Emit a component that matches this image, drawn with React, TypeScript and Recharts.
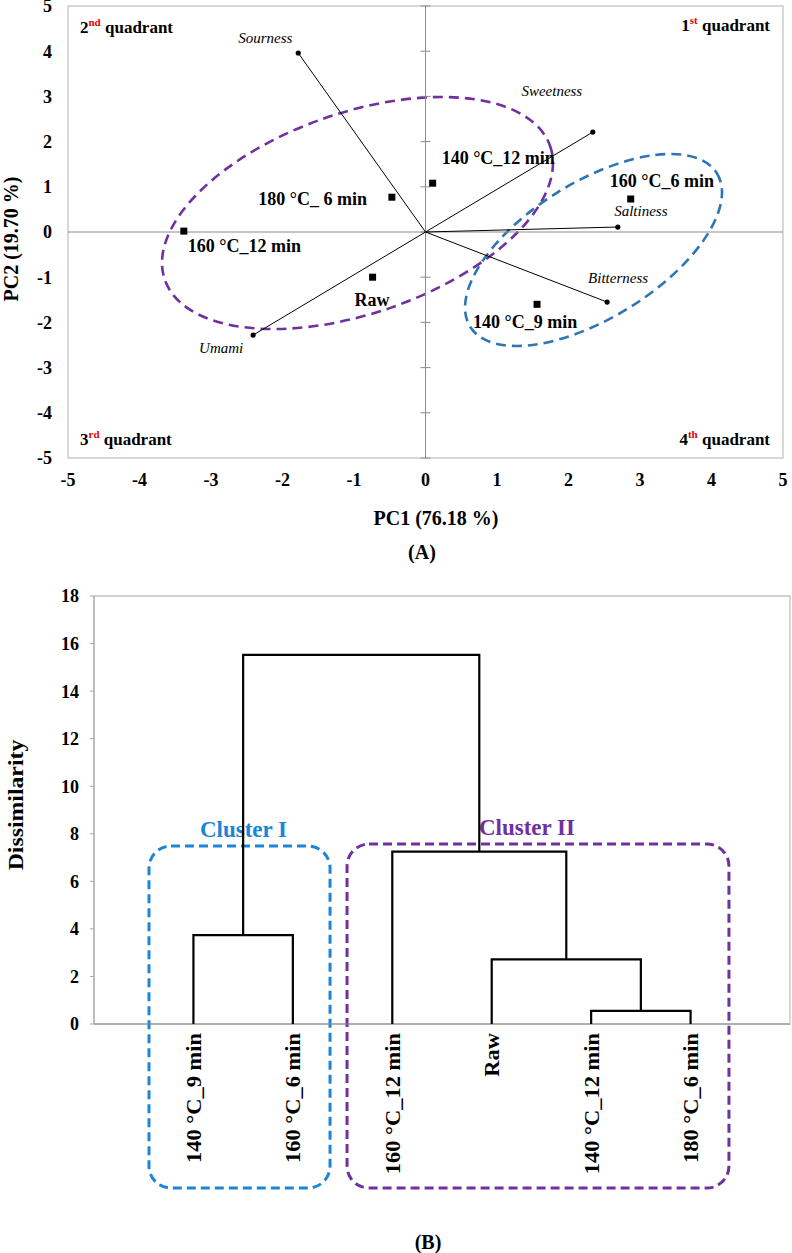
import React from 'react';
import { ScatterChart, Scatter, XAxis, YAxis, ReferenceLine, ReferenceArea } from 'recharts';

const FONT = '"Liberation Serif", "Times New Roman", serif';

// ---------- (A) PCA biplot ----------
const sampleNames = ['180 °C_ 6 min', '160 °C_12 min', '140 °C_12 min', '160 °C_6 min', 'Raw', '140 °C_9 min'];
const samplePC1 = [-0.47, -3.38, 0.10, 2.87, -0.74, 1.56];
const samplePC2 = [0.77, 0.02, 1.08, 0.73, -1.00, -1.60];

const attrNames = ['Sourness', 'Sweetness', 'Saltiness', 'Bitterness', 'Umami'];
const attrPC1 = [-1.78, 2.34, 2.69, 2.54, -2.41];
const attrPC2 = [3.96, 2.21, 0.11, -1.55, -2.28];

const pcTicks = [-5, -4, -3, -2, -1, 0, 1, 2, 3, 4, 5];

// group ellipses: centre, half extents (data units), correlation
const ellCX = [-0.951, 2.35];
const ellCY = [0.42, -0.398];
const ellHX = [2.734, 1.797];
const ellHY = [2.566, 2.124];
const ellK = [0.43, 0.6];
const ellColor = ['#7030a0', '#2e75b6'];

// label placement (px)
const sampleLabelDx = [-25, 4, 9, -21, -18, -64];
const sampleLabelDy = [2, 15, -25, -18, 22, 17];
const sampleLabelAnchor = ['end', 'start', 'start', 'start', 'start', 'start'];
const attrLabelDx = [-33, -41, 23, 11, -32];
const attrLabelDy = [-15, -41, -16, -24, 13];

// ---------- (B) dendrogram ----------
const leafNames = ['140 °C_9 min', '160 °C_6 min', '160 °C_12 min', 'Raw', '140 °C_12 min', '180 °C_6 min'];
const leafTicks = [1, 2, 3, 4, 5, 6];
const mergeA = [0, 4, 3, 2, 6];
const mergeB = [1, 5, 7, 8, 9];
const mergeHeight = [3.74, 0.55, 2.72, 7.25, 15.52];
const dissTicks = [0, 2, 4, 6, 8, 10, 12, 14, 16, 18];

const clusterNames = ['Cluster I', 'Cluster II'];
const clusterX1 = [0.553, 2.545];
const clusterX2 = [2.374, 6.386];
const clusterY1 = [-6.9, -6.9];
const clusterY2 = [7.485, 7.57];
const clusterColor = ['#1a86d6', '#7030a0'];
const clusterLabelDx = [4, -11];

const samplesData = sampleNames.map((n, i) => ({ x: samplePC1[i], y: samplePC2[i], i }));
const vTickData = pcTicks.map((v) => ({ x: 0, y: v }));

function buildDendro() {
  const nodes: { x: number; h: number }[] = leafNames.map((_, j) => ({ x: j + 1, h: 0 }));
  const segs: { x: number; y: number }[][] = [];
  mergeHeight.forEach((h, m) => {
    const a = nodes[mergeA[m]];
    const b = nodes[mergeB[m]];
    segs.push([
      { x: a.x, y: a.h },
      { x: a.x, y: h },
      { x: b.x, y: h },
      { x: b.x, y: b.h },
    ]);
    nodes.push({ x: (a.x + b.x) / 2, h });
  });
  return segs;
}
const dendroSegs = buildDendro();

const tickStyle = { fontFamily: FONT, fontWeight: 700, fontSize: 18, fill: '#000' };

const Empty = () => <g />;

const EllipseShape = (props: any) => {
  const { x, y, width, height, k, color } = props;
  const hw = width / 2;
  const hh = Math.abs(height) / 2;
  const cx = x + hw;
  const cy = Math.min(y, y + height) + hh;
  const sxx = hw * hw;
  const syy = hh * hh;
  const sxy = -k * hw * hh;
  const theta = 0.5 * Math.atan2(2 * sxy, sxx - syy);
  const mid = (sxx + syy) / 2;
  const r = Math.sqrt(((sxx - syy) / 2) ** 2 + sxy * sxy);
  const a = Math.sqrt(mid + r);
  const b = Math.sqrt(Math.max(mid - r, 0));
  return (
    <ellipse
      cx={cx}
      cy={cy}
      rx={a}
      ry={b}
      transform={`rotate(${(theta * 180) / Math.PI} ${cx} ${cy})`}
      fill="none"
      stroke={color}
      strokeWidth={2.6}
      strokeDasharray="10 6"
    />
  );
};

const Sup = ({ n, s }: { n: string; s: string }) => (
  <>
    <tspan>{n}</tspan>
    <tspan fill="#e00000" fontSize={11} dy={-7}>{s}</tspan>
    <tspan dy={7}> quadrant</tspan>
  </>
);

const FrameShape = (props: any) => {
  const { x, y, width, height } = props;
  const t = { fontFamily: FONT, fontWeight: 700, fontSize: 17, fill: '#000' };
  return (
    <g>
      <rect x={x} y={y} width={width} height={height} fill="none" stroke="#c4c4c4" strokeWidth={1.3} />
      <text x={x + 12} y={y + 27} {...t}><Sup n="2" s="nd" /></text>
      <text x={x + width - 13} y={y + 25} textAnchor="end" {...t}><Sup n="1" s="st" /></text>
      <text x={x + 12} y={y + height - 13} {...t}><Sup n="3" s="rd" /></text>
      <text x={x + width - 13} y={y + height - 13} textAnchor="end" {...t}><Sup n="4" s="th" /></text>
    </g>
  );
};

const SampleShape = (props: any) => {
  const { cx, cy, payload } = props;
  const i = payload.i;
  return (
    <g>
      <rect x={cx - 3.5} y={cy - 3.5} width={7} height={7} fill="#000" />
      <text
        x={cx + sampleLabelDx[i]}
        y={cy + sampleLabelDy[i]}
        dy="0.35em"
        textAnchor={sampleLabelAnchor[i] as any}
        fontFamily={FONT}
        fontWeight={700}
        fontSize={18}
        fill="#000"
      >
        {sampleNames[i]}
      </text>
    </g>
  );
};

const AttrShape = (props: any) => {
  const { cx, cy, payload } = props;
  if (!payload.end) return <g />;
  const i = payload.i;
  return (
    <g>
      <circle cx={cx} cy={cy} r={2.6} fill="#000" />
      <text
        x={cx + attrLabelDx[i]}
        y={cy + attrLabelDy[i]}
        dy="0.35em"
        textAnchor="middle"
        fontFamily={FONT}
        fontStyle="italic"
        fontSize={15}
        fill="#000"
      >
        {attrNames[i]}
      </text>
    </g>
  );
};

const VTick = (props: any) => {
  const { cx, cy } = props;
  return <line x1={cx - 5} x2={cx + 5} y1={cy} y2={cy} stroke="#8c8c8c" strokeWidth={1} />;
};

const ClusterShape = (props: any) => {
  const { x, y, width, height, idx } = props;
  const top = Math.min(y, y + height);
  const h = Math.abs(height);
  return (
    <g>
      <rect
        x={x}
        y={top}
        width={width}
        height={h}
        rx={22}
        ry={22}
        fill="none"
        stroke={clusterColor[idx]}
        strokeWidth={3}
        strokeDasharray="9 5"
      />
      <text
        x={x + width / 2 + clusterLabelDx[idx]}
        y={top - 17}
        dy="0.35em"
        textAnchor="middle"
        fontFamily={FONT}
        fontWeight={700}
        fontSize={23}
        fill={clusterColor[idx]}
      >
        {clusterNames[idx]}
      </text>
    </g>
  );
};

const LeafTick = (props: any) => {
  const { x, y, payload } = props;
  const name = leafNames[payload.value - 1];
  return (
    <text
      transform={`translate(${x},${y}) rotate(-90) scale(1.07,1)`}
      textAnchor="end"
      dy="0.35em"
      fontFamily={FONT}
      fontWeight={700}
      fontSize={21}
      fill="#000"
    >
      {name}
    </text>
  );
};

function BiplotA() {
  return (
    <ScatterChart width={792} height={500} margin={{ top: 6, right: 9, bottom: 12, left: 8 }}>
      <XAxis
        type="number"
        dataKey="x"
        domain={[-5, 5]}
        ticks={pcTicks}
        interval={0}
        axisLine={false}
        tickLine={false}
        tickSize={6}
        tickMargin={9}
        height={30}
        tick={tickStyle}
      />
      <YAxis
        type="number"
        dataKey="y"
        domain={[-5, 5]}
        ticks={pcTicks}
        interval={0}
        axisLine={false}
        tickLine={false}
        tickSize={6}
        tickMargin={10}
        width={60}
        tick={tickStyle}
      />
      <ReferenceArea x1={-5} x2={5} y1={-5} y2={5} ifOverflow="visible" shape={FrameShape} />
      <ReferenceLine x={0} stroke="#8c8c8c" strokeWidth={1} />
      <ReferenceLine y={0} stroke="#8c8c8c" strokeWidth={1} />
      <Scatter data={vTickData} shape={VTick} isAnimationActive={false} />
      {ellCX.map((c, e) => (
        <ReferenceArea
          key={'ell' + e}
          x1={c - ellHX[e]}
          x2={c + ellHX[e]}
          y1={ellCY[e] - ellHY[e]}
          y2={ellCY[e] + ellHY[e]}
          ifOverflow="visible"
          shape={(p: any) => <EllipseShape {...p} k={ellK[e]} color={ellColor[e]} />}
        />
      ))}
      {attrNames.map((n, i) => (
        <Scatter
          key={n}
          data={[
            { x: 0, y: 0, end: false, i },
            { x: attrPC1[i], y: attrPC2[i], end: true, i },
          ]}
          line={{ stroke: '#000', strokeWidth: 1 }}
          shape={AttrShape}
          isAnimationActive={false}
        />
      ))}
      <Scatter data={samplesData} shape={SampleShape} isAnimationActive={false} />
    </ScatterChart>
  );
}

function DendroB() {
  return (
    <ScatterChart width={792} height={693} margin={{ top: 36, right: 2, bottom: 0, left: 0 }}>
      <XAxis
        type="number"
        dataKey="x"
        domain={[0, 7]}
        ticks={leafTicks}
        interval={0}
        axisLine={{ stroke: '#8c8c8c', strokeWidth: 1 }}
        tickLine={false}
        tickSize={6}
        tickMargin={3}
        height={229}
        tick={LeafTick}
      />
      <YAxis
        type="number"
        dataKey="y"
        domain={[0, 18]}
        ticks={dissTicks}
        interval={0}
        axisLine={{ stroke: '#a6a6a6', strokeWidth: 1 }}
        tickLine={{ stroke: '#a6a6a6' }}
        tickSize={4}
        tickMargin={11}
        width={94}
        tick={tickStyle}
      />
      <ReferenceArea x1={0} x2={7} y1={0} y2={18} fill="none" stroke="#c4c4c4" strokeWidth={1.3} fillOpacity={0} />
      {dendroSegs.map((seg, m) => (
        <Scatter
          key={'m' + m}
          data={seg}
          line={{ stroke: '#000', strokeWidth: 2.2 }}
          shape={Empty}
          isAnimationActive={false}
        />
      ))}
      {clusterNames.map((n, c) => (
        <ReferenceArea
          key={n}
          x1={clusterX1[c]}
          x2={clusterX2[c]}
          y1={clusterY1[c]}
          y2={clusterY2[c]}
          ifOverflow="visible"
          shape={(p: any) => <ClusterShape {...p} idx={c} />}
        />
      ))}
    </ScatterChart>
  );
}

export default function App() {
  const title = { fontFamily: FONT, fontWeight: 700, fill: '#000' };
  return (
    <div style={{ position: 'absolute', left: 0, top: 0, width: 792, height: 1253, background: '#fff', overflow: 'hidden' }}>
      <div style={{ position: 'absolute', left: 0, top: 0 }}>
        <BiplotA />
      </div>
      <div style={{ position: 'absolute', left: 0, top: 560 }}>
        <DendroB />
      </div>
      <svg width={792} height={1253} style={{ position: 'absolute', left: 0, top: 0, pointerEvents: 'none' }}>
        <text x={436} y={518} dy="0.35em" textAnchor="middle" fontSize={20} {...title}>PC1 (76.18 %)</text>
        <text x={422} y={552} dy="0.35em" textAnchor="middle" fontSize={20} {...title}>(A)</text>
        <text transform="translate(11,239) rotate(-90)" dy="0.35em" textAnchor="middle" fontSize={20} {...title}>PC2 (19.70 %)</text>
        <text transform="translate(15,805) rotate(-90) scale(1.08,1)" dy="0.35em" textAnchor="middle" fontSize={22} {...title}>Dissimilarity</text>
        <text x={428} y={1242} dy="0.35em" textAnchor="middle" fontSize={20} {...title}>(B)</text>
      </svg>
    </div>
  );
}
